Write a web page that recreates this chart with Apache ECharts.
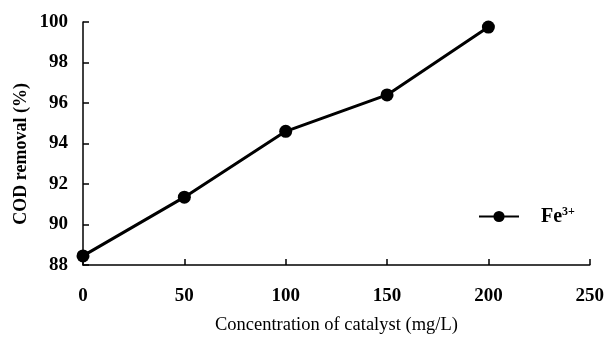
<!DOCTYPE html>
<html>
<head>
<meta charset="utf-8">
<script src="https://cdn.jsdelivr.net/npm/echarts@6/dist/echarts.min.js"></script>
<style>
  html, body { margin: 0; padding: 0; background: #fff; }
  #chart { width: 607px; height: 340px; }
</style>
</head>
<body>
<div id="chart"></div>
<script>
// Données
const concentrations = [0, 50, 100, 150, 200];
const codRemoval = [88.45, 91.35, 94.6, 96.4, 99.75];
const seriesName = 'Fe3+';

const serif = '"Liberation Serif", "DejaVu Serif", serif';

const chart = echarts.init(document.getElementById('chart'), null, { renderer: 'canvas' });

const option = {
    animation: false,
    grid: { left: 83, right: 17, top: 22, bottom: 74 },
    legend: {
        left: 478,
        top: 206,
        padding: 0,
        itemWidth: 40,
        itemHeight: 14,
        data: [seriesName],
        formatter: function () { return '{b|Fe}{s|3+}'; },
        textStyle: {
            color: '#000',
            rich: {
                b: { fontFamily: serif, fontSize: 20, fontWeight: 'bold', color: '#000', padding: [0, 0, 0, 17] },
                s: { fontFamily: serif, fontSize: 12, fontWeight: 'bold', color: '#000', verticalAlign: 'top', padding: [0, 0, 9, 0] }
            }
        }
    },
    xAxis: {
        type: 'value',
        min: 0,
        max: 250,
        interval: 50,
        name: 'Concentration of catalyst (mg/L)',
        nameLocation: 'middle',
        nameGap: 51,
        nameTextStyle: { fontFamily: serif, fontSize: 18.5, color: '#000' },
        axisLine: { show: true, lineStyle: { color: '#000', width: 1.5 } },
        axisTick: { show: true, inside: true, length: 6, lineStyle: { color: '#000', width: 1.5 } },
        axisLabel: { fontFamily: serif, fontSize: 19, fontWeight: 'bold', color: '#000', margin: 22 },
        splitLine: { show: false }
    },
    yAxis: {
        type: 'value',
        min: 88,
        max: 100,
        interval: 2,
        axisLine: { show: true, lineStyle: { color: '#000', width: 1.5 } },
        axisTick: { show: true, inside: true, length: 6, lineStyle: { color: '#000', width: 1.5 } },
        axisLabel: { fontFamily: serif, fontSize: 19, fontWeight: 'bold', color: '#000', margin: 15 },
        splitLine: { show: false }
    },
    graphic: [{
        type: 'text',
        left: 12,
        top: 83,
        rotation: Math.PI / 2,
        style: {
            text: 'COD removal (%)',
            fontFamily: serif,
            fontSize: 18,
            fontWeight: 'bold',
            fill: '#000'
        }
    }],
    series: [{
        name: seriesName,
        type: 'line',
        data: concentrations.map((c, i) => [c, codRemoval[i]]),
        symbol: 'circle',
        symbolSize: 13,
        lineStyle: { color: '#000', width: 3 },
        itemStyle: { color: '#000' }
    }]
};

chart.setOption(option);
</script>
</body>
</html>
